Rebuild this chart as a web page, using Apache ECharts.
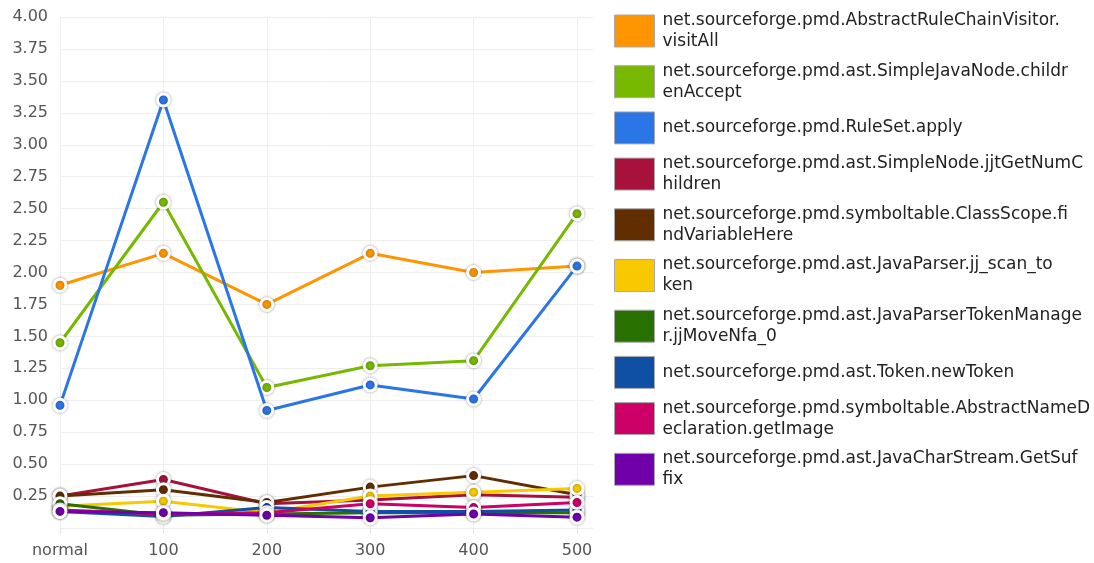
<!DOCTYPE html>
<html>
<head>
<meta charset="utf-8">
<title>PMD method timings</title>
<script src="https://cdn.jsdelivr.net/npm/echarts@6/dist/echarts.min.js"></script>
<style>
  html, body { margin: 0; padding: 0; background: #fff; }
  #chart { width: 1094px; height: 563px; }
</style>
</head>
<body>
<div id="chart"></div>
<script>
// Run sizes along the x axis
const categories = ['normal', '100', '200', '300', '400', '500'];

// Method names (series), in draw order
const methodNames = [
  'net.sourceforge.pmd.AbstractRuleChainVisitor.visitAll',
  'net.sourceforge.pmd.ast.SimpleJavaNode.childrenAccept',
  'net.sourceforge.pmd.RuleSet.apply',
  'net.sourceforge.pmd.ast.SimpleNode.jjtGetNumChildren',
  'net.sourceforge.pmd.symboltable.ClassScope.findVariableHere',
  'net.sourceforge.pmd.ast.JavaParser.jj_scan_token',
  'net.sourceforge.pmd.ast.JavaParserTokenManager.jjMoveNfa_0',
  'net.sourceforge.pmd.ast.Token.newToken',
  'net.sourceforge.pmd.symboltable.AbstractNameDeclaration.getImage',
  'net.sourceforge.pmd.ast.JavaCharStream.GetSuffix'
];

// Legend labels, wrapped to the legend column width
const legendLabels = [
  'net.sourceforge.pmd.AbstractRuleChainVisitor.\nvisitAll',
  'net.sourceforge.pmd.ast.SimpleJavaNode.childr\nenAccept',
  'net.sourceforge.pmd.RuleSet.apply',
  'net.sourceforge.pmd.ast.SimpleNode.jjtGetNumC\nhildren',
  'net.sourceforge.pmd.symboltable.ClassScope.fi\nndVariableHere',
  'net.sourceforge.pmd.ast.JavaParser.jj_scan_to\nken',
  'net.sourceforge.pmd.ast.JavaParserTokenManage\nr.jjMoveNfa_0',
  'net.sourceforge.pmd.ast.Token.newToken',
  'net.sourceforge.pmd.symboltable.AbstractNameD\neclaration.getImage',
  'net.sourceforge.pmd.ast.JavaCharStream.GetSuf\nfix'
];

const seriesColors = [
  '#ff9500', '#77b800', '#2a76e6', '#a8113c', '#622e00',
  '#f8c800', '#287000', '#1050a4', '#cc0066', '#7000aa'
];

// Values per method, one per category
const visitAll          = [1.90, 2.15, 1.75, 2.15, 2.00, 2.05];
const childrenAccept    = [1.45, 2.55, 1.10, 1.27, 1.31, 2.46];
const ruleSetApply      = [0.96, 3.35, 0.92, 1.12, 1.01, 2.05];
const jjtGetNumChildren = [0.25, 0.38, 0.19, 0.22, 0.26, 0.24];
const findVariableHere  = [0.25, 0.30, 0.20, 0.32, 0.41, 0.26];
const jjScanToken       = [0.17, 0.21, 0.12, 0.25, 0.28, 0.31];
const jjMoveNfa0        = [0.19, 0.10, 0.11, 0.12, 0.12, 0.12];
const newToken          = [0.13, 0.09, 0.16, 0.13, 0.13, 0.14];
const getImage          = [0.14, 0.11, 0.12, 0.19, 0.16, 0.20];
const getSuffix         = [0.13, 0.12, 0.10, 0.08, 0.11, 0.085];

const seriesValues = [
  visitAll, childrenAccept, ruleSetApply, jjtGetNumChildren, findVariableHere,
  jjScanToken, jjMoveNfa0, newToken, getImage, getSuffix
];

const FONT = 'DejaVu Sans';

const chart = echarts.init(document.getElementById('chart'), null, { renderer: 'canvas' });

const series = methodNames.map((name, i) => ({
  name: name,
  type: 'line',
  xAxisIndex: 0,
  yAxisIndex: 0,
  data: seriesValues[i],
  color: seriesColors[i],
  symbol: 'circle',
  symbolSize: 12,
  showSymbol: true,
  lineStyle: { width: 3, color: seriesColors[i] },
  itemStyle: {
    color: seriesColors[i],
    borderColor: '#ffffff',
    borderWidth: 3,
    shadowBlur: 3,
    shadowColor: 'rgba(0,0,0,0.35)'
  },
  emphasis: { disabled: true },
  z: 2 + i
}));

const option = {
  backgroundColor: '#ffffff',
  animation: false,
  grid: [
    // plot area for the lines
    { left: 60, right: 517, top: 17, bottom: 35 },
    // wider area that carries the horizontal grid lines
    { left: 60, right: 501, top: 17, bottom: 35 }
  ],
  xAxis: [
    {
      type: 'category',
      gridIndex: 0,
      data: categories,
      boundaryGap: false,
      axisLine: { show: false },
      axisTick: { show: true, length: 6, lineStyle: { color: '#e4e4e4' } },
      splitLine: { show: true, lineStyle: { color: '#eeeeee', width: 1 } },
      axisLabel: {
        margin: 15,
        color: '#555555',
        fontFamily: FONT,
        fontSize: 16
      }
    },
    {
      type: 'category',
      gridIndex: 1,
      data: categories,
      show: false
    }
  ],
  yAxis: [
    {
      type: 'value',
      gridIndex: 0,
      min: 0,
      max: 4,
      interval: 0.25,
      axisLine: { show: false },
      axisTick: { show: false },
      splitLine: { show: false },
      axisLabel: {
        margin: 12,
        color: '#555555',
        fontFamily: FONT,
        fontSize: 16,
        formatter: v => (v === 0 ? '' : v.toFixed(2))
      }
    },
    {
      type: 'value',
      gridIndex: 1,
      min: 0,
      max: 4,
      interval: 0.25,
      axisLine: { show: false },
      axisTick: { show: false },
      axisLabel: { show: false },
      splitLine: { show: true, lineStyle: { color: '#eeeeee', width: 1 } }
    }
  ],
  legend: {
    orient: 'vertical',
    left: 609,
    top: 5,
    itemWidth: 40,
    itemHeight: 32,
    itemGap: 8.7,
    icon: 'rect',
    selectedMode: false,
    data: methodNames,
    formatter: name => legendLabels[methodNames.indexOf(name)],
    itemStyle: {
      borderColor: '#aaaaaa',
      borderWidth: 1,
      shadowBlur: 0,
      shadowColor: 'rgba(0,0,0,0)'
    },
    textStyle: {
      fontFamily: FONT,
      fontSize: 17,
      lineHeight: 21,
      color: '#222222',
      padding: [0, 0, 0, 3]
    }
  },
  tooltip: { show: false },
  series: series
};

chart.setOption(option);
</script>
</body>
</html>
